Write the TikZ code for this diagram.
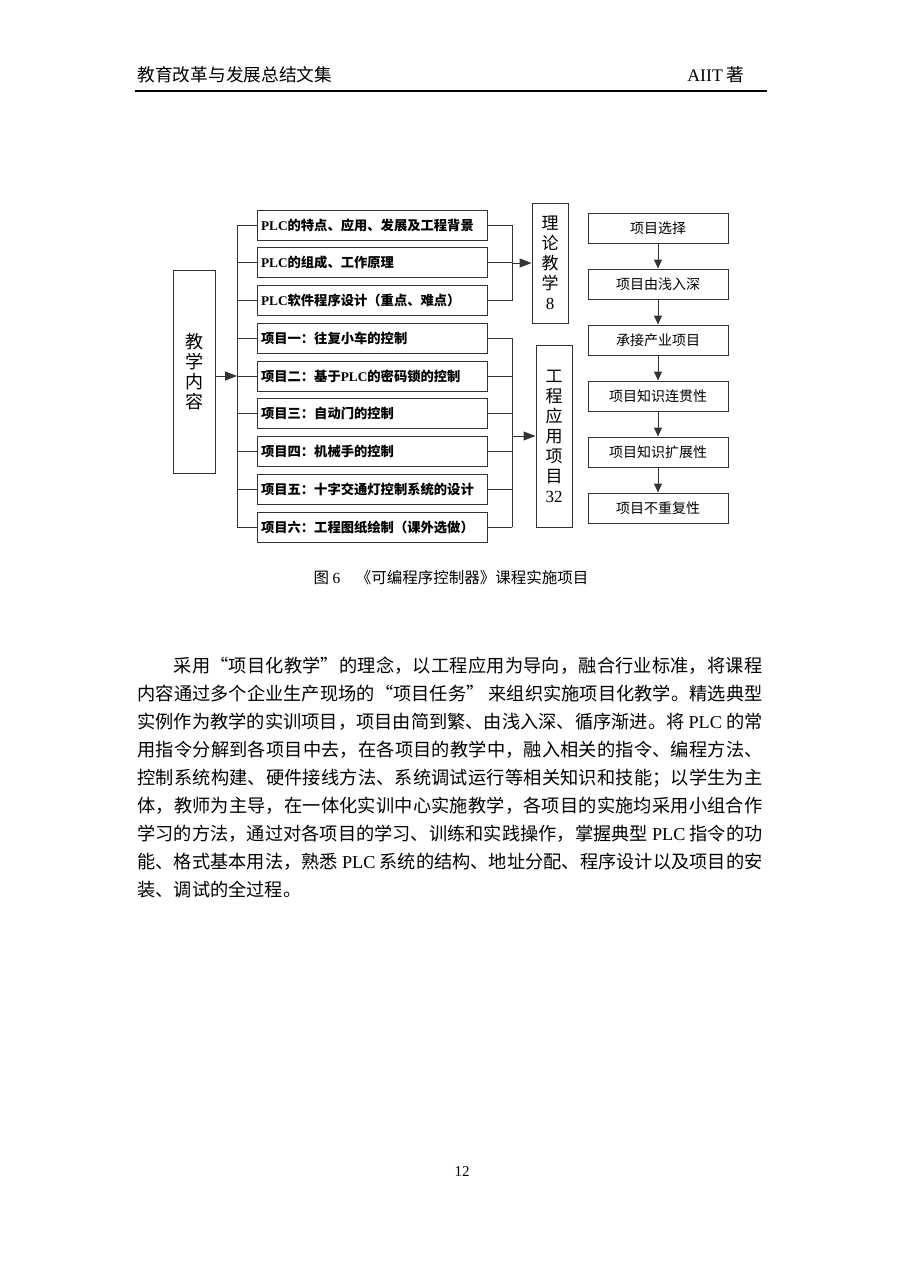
\documentclass[tikz,border=0pt]{standalone}
\usepackage{fontspec}
\setmainfont{Noto Sans CJK SC}
\newfontfamily\lat{Liberation Serif}
\usetikzlibrary{positioning,arrows.meta}
\XeTeXlinebreaklocale "zh"
\XeTeXlinebreakskip=0pt plus 3pt minus 0.6pt
\XeTeXlinebreakpenalty=10000
\newcommand{\fs}[2]{\fontsize{#1}{#2}\selectfont}
\newcommand{\plc}{{\lat\bfseries PLC}}

\begin{document}
\begin{tikzpicture}[x=1pt, y=-1pt, line width=1pt,
    item/.style={rectangle, draw=black!80, minimum width=230pt, minimum height=30pt, text width=222pt, align=left, inner xsep=4pt, font=\fs{13.3}{16}\bfseries},
    vbox/.style={rectangle, draw=black!80, minimum width=36pt, align=center, font=\fs{17}{20}},
    flowbox/.style={rectangle, draw=black!80, minimum width=140pt, minimum height=30pt, font=\fs{14}{16}},
    link/.style={draw=black!80},
    arr/.style={draw=black!80, -{Triangle[length=12pt,width=9pt]}},
    down/.style={draw=black!80, -{Triangle[length=9pt,width=8pt]}},
    txt/.style={inner sep=0pt}]
    \useasboundingbox (0,0) rectangle (900,1272);
    % page header
    \node[txt, anchor=west, font=\fs{17.7}{20}] (head) at (137,75) {教育改革与发展总结文集};
    \node[txt, anchor=east, font=\fs{17.7}{20}] (auth) at (745,75) {{\lat AIIT} 著};
    \draw[line width=1.3pt] (135,91) -- (767,91);
    % course content
    \node [vbox, minimum width=42pt, minimum height=203pt, font=\fs{18}{20}] (content) at (194,371.5) {教\\学\\内\\容};
    \node [item] (p1) at (372,225) {\plc 的特点、应用、发展及工程背景};
    \node [item, below=6.75pt of p1] (p2) {\plc 的组成、工作原理};
    \node [item, below=6.75pt of p2] (p3) {\plc 软件程序设计（重点、难点）};
    \node [item, below=6.75pt of p3] (p4) {项目一：往复小车的控制};
    \node [item, below=6.75pt of p4] (p5) {项目二：基于\plc 的密码锁的控制};
    \node [item, below=6.75pt of p5] (p6) {项目三：自动门的控制};
    \node [item, below=6.75pt of p6] (p7) {项目四：机械手的控制};
    \node [item, below=6.75pt of p7] (p8) {项目五：十字交通灯控制系统的设计};
    \node [item, below=6.75pt of p8] (p9) {项目六：工程图纸绘制（课外选做）};
    \node [vbox, minimum height=120pt] (theory) at (550,263) {理\\论\\教\\学\\{\lat 8}};
    \node [vbox, minimum height=182pt] (eng) at (554,436) {工\\程\\应\\用\\项\\目\\{\lat 32}};
    \coordinate (busL) at (237,0);
    \coordinate (busR) at (512,0);
    \foreach \i in {1,...,9} {
        \draw[link] (p\i.west) -- (p\i.west -| busL);
        \draw[link] (p\i.east) -- (p\i.east -| busR);
    }
    \draw[link] (p1.west -| busL) -- (p9.west -| busL);
    \draw[link] (p1.east -| busR) -- (p3.east -| busR);
    \draw[link] (p4.east -| busR) -- (p9.east -| busR);
    \draw[arr] (content.east |- p5.west) -- (p5.west -| busL);
    \draw[arr] (busR |- theory.west) -- (theory.west);
    \draw[arr] (busR |- eng.west) -- (eng.west);
    % project features
    \node [flowbox] (f1) at (658,228) {项目选择};
    \node [flowbox, below=25pt of f1] (f2) {项目由浅入深};
    \node [flowbox, below=25pt of f2] (f3) {承接产业项目};
    \node [flowbox, below=25pt of f3] (f4) {项目知识连贯性};
    \node [flowbox, below=25pt of f4] (f5) {项目知识扩展性};
    \node [flowbox, below=25pt of f5] (f6) {项目不重复性};
    \foreach \a/\b in {f1/f2,f2/f3,f3/f4,f4/f5,f5/f6}
        \draw[down] (\a.south) -- (\b.north);
    % caption
    \node[txt, font=\fs{15.5}{18}] (caption) at (451,578) {图 {\lat 6}\quad《可编程序控制器》课程实施项目};
    % body text
    \node[txt, anchor=north west, text width=625pt, align=justify, font=\fs{18.2}{28}] (body) at (137,656) {\parindent=0pt\tolerance=10000\hfuzz=20pt\hspace*{2em}采用“项目化教学”的理念，以工程应用为导向，融合行业标准，将课程\linebreak
内容通过多个企业生产现场的“项目任务” 来组织实施项目化教学。精选典型\linebreak
实例作为教学的实训项目，项目由简到繁、由浅入深、循序渐进。将~{\lat PLC}~的常\linebreak
用指令分解到各项目中去，在各项目的教学中，融入相关的指令、编程方法、\linebreak
控制系统构建、硬件接线方法、系统调试运行等相关知识和技能；以学生为主\linebreak
体，教师为主导，在一体化实训中心实施教学，各项目的实施均采用小组合作\linebreak
学习的方法，通过对各项目的学习、训练和实践操作，掌握典型~{\lat PLC}~指令的功\linebreak
能、格式基本用法，熟悉~{\lat PLC}~系统的结构、地址分配、程序设计以及项目的安\linebreak
装、调试的全过程。};
    % page number
    \node[txt, font=\fs{15}{18}] (pagenum) at (462,1172) {\lat 12};
\end{tikzpicture}
\end{document}
